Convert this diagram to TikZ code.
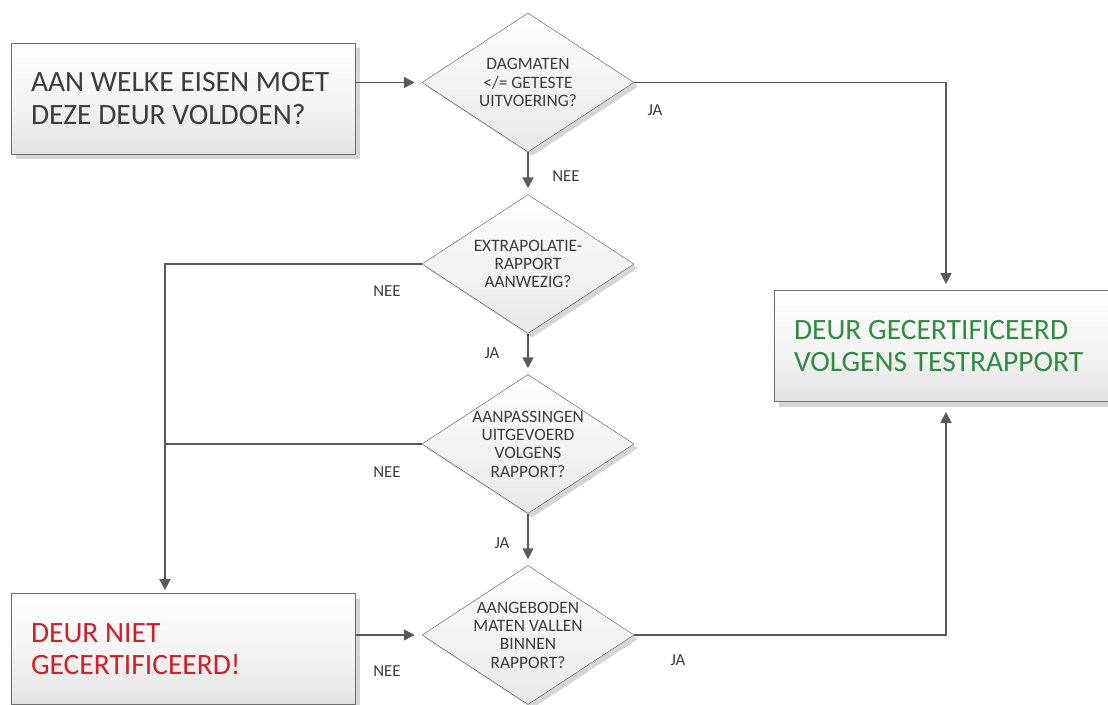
\documentclass[tikz,border=0pt]{standalone}
\usepackage{fontspec}
\setmainfont{Carlito}
\usepackage{tikz}
\usetikzlibrary{
  arrows.meta,
  positioning,
  shapes.geometric,
  shadows
}
\definecolor{linegray}{RGB}{90,90,90}
\definecolor{bordergray}{RGB}{110,110,110}
\definecolor{textgray}{RGB}{60,60,60}
\definecolor{shadegray}{RGB}{214,214,214}
\definecolor{boxgreen}{RGB}{48,140,62}
\definecolor{boxred}{RGB}{208,32,42}

\tikzset{
  stepbox/.style={rectangle, draw=bordergray, line width=0.8pt,
    top color=white, bottom color=black!11, middle color=white!96!black,
    drop shadow={shadow xshift=5pt, shadow yshift=-5pt, fill=shadegray, opacity=1},
    minimum width=344pt, minimum height=111pt, text width=304pt, align=flush left,
    font=\fontsize{29.5}{32.5}\selectfont},
  question/.style={diamond, draw=bordergray, line width=0.5pt,
    top color=white, bottom color=black!9,
    drop shadow={shadow xshift=4pt, shadow yshift=-4pt, fill=shadegray, opacity=1},
    minimum width=212pt, minimum height=139pt, inner sep=0pt,
    label={[align=flush center, text=textgray, font=\fontsize{17.4}{18.3}\selectfont]center:#1}},
  answer/.style={text=textgray, font=\fontsize{16.8}{19}\selectfont},
  flow/.style={draw=linegray, line width=1.6pt, -{Triangle[length=11pt,width=11pt]}},
  flowline/.style={draw=linegray, line width=1.6pt}
}

\begin{document}
\begin{tikzpicture}[x=1pt, y=-1pt]
  \useasboundingbox (0,0) rectangle (1108,704);

  % boxes
  \node[stepbox, text=textgray] (eisen) at (183,98.5) {AAN WELKE EISEN MOET\\DEZE DEUR VOLDOEN?};
  \node[stepbox, text=boxgreen] (cert) at (946,346) {DEUR GECERTIFICEERD\\VOLGENS TESTRAPPORT};
  \node[stepbox, text=boxred] (niet) at (183,649) {DEUR NIET\\GECERTIFICEERD!};

  % questions
  \node[question={DAGMATEN\\\textless/= GETESTE\\UITVOERING?}] (dag) at (528,82.5) {};
  \node[question={EXTRAPOLATIE-\\RAPPORT\\AANWEZIG?}] (extra) at (528,264) {};
  \node[question={AANPASSINGEN\\UITGEVOERD\\VOLGENS\\RAPPORT?}] (aanp) at (528,444) {};
  \node[question={AANGEBODEN\\MATEN VALLEN\\BINNEN\\RAPPORT?}] (maten) at (528,635) {};

  % connectors
  \coordinate (join) at (165,444);
  \draw[flow, shorten >=7pt] (eisen.east |- dag.west) -- (dag.west);
  \draw[flow, shorten >=6pt] (dag.east) -| (cert.north);
  \draw[flow, shorten >=6pt] (dag.south) -- (extra.north);
  \draw[flow, shorten >=3pt] (extra.west) -| (join |- niet.north);
  \draw[flowline] (aanp.west) -- (join);
  \draw[flow, shorten >=6pt] (extra.south) -- (aanp.north);
  \draw[flow, shorten >=6pt] (aanp.south) -- (maten.north);
  \draw[flow, shorten >=7pt] (niet.east |- maten.west) -- (maten.west);
  \draw[flow, shorten >=10pt] (maten.east) -| (cert.south);

  % answers
  \node[answer] (ja1) at (655,110) {JA};
  \node[answer] (nee1) at (566,176) {NEE};
  \node[answer] (nee2) at (387,291) {NEE};
  \node[answer] (ja2) at (492,353) {JA};
  \node[answer] (nee3) at (387,472) {NEE};
  \node[answer] (ja3) at (502,543) {JA};
  \node[answer] (nee4) at (387,671) {NEE};
  \node[answer] (ja4) at (678,660) {JA};
\end{tikzpicture}
\end{document}
